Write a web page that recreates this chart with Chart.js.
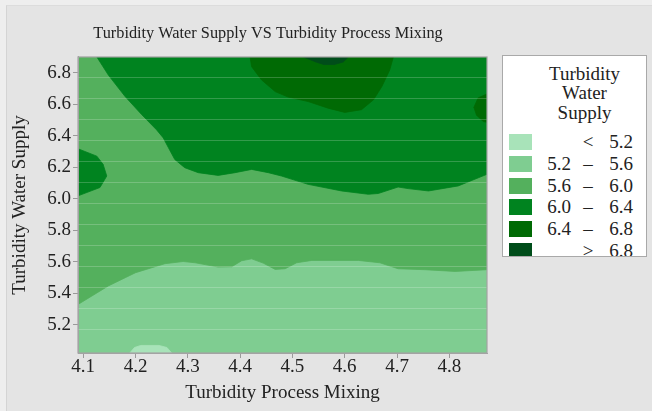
<!DOCTYPE html>
<html><head><meta charset="utf-8">
<script src="https://cdn.jsdelivr.net/npm/chart.js@4.4.1/dist/chart.umd.min.js"></script>
<style>
html,body{margin:0;padding:0;background:#eeeeee;}
#wrap{position:relative;width:652px;height:411px;overflow:hidden;}
#frame{position:absolute;left:6px;top:5px;right:0;bottom:0;background:#e4e4e4;border-left:1px solid #d4d4d4;border-top:1px solid #dcdcdc;}
canvas{position:absolute;left:0;top:0;}
#legend{position:absolute;left:502px;top:55px;width:143px;height:200px;background:#fff;border:1px solid #a9a9a9;overflow:hidden;font-family:'Liberation Serif',serif;font-size:19px;color:#222;}
#legend .ttl{position:absolute;left:20px;right:0;top:8px;text-align:center;line-height:19.3px;}
#legend .row{position:absolute;left:0;width:143px;height:22px;line-height:22px;}
#legend .sw{position:absolute;left:6px;top:3px;width:23px;height:16px;}
#legend .lo{position:absolute;right:75px;top:0;}
#legend .sy{position:absolute;left:76px;width:18px;text-align:center;top:0;}
#legend .hi{position:absolute;right:13px;top:0;}
</style></head>
<body>
<div id="wrap">
<div id="frame"></div>
<canvas id="c" width="652" height="411"></canvas>
<div id="legend"></div>
</div>
<script>
// ---- axis bounds and ticks ----
const X_MIN = 4.09, X_MAX = 4.872, Y_MIN = 5.02, Y_MAX = 6.9;
const xTicks = [4.1, 4.2, 4.3, 4.4, 4.5, 4.6, 4.7, 4.8];
const yTicks = [5.2, 5.4, 5.6, 5.8, 6.0, 6.2, 6.4, 6.6, 6.8];

// ---- contour boundaries (Turbidity Process Mixing, Turbidity Water Supply) ----
// 5.6 contour (between 5.2-5.6 and 5.6-6.0)
const c56X = [4.09, 4.148, 4.2, 4.256, 4.291, 4.314, 4.358, 4.384, 4.403, 4.422, 4.444, 4.467, 4.486, 4.508, 4.537, 4.626, 4.667, 4.702, 4.753, 4.811, 4.872];
const c56Y = [5.328, 5.446, 5.530, 5.587, 5.601, 5.593, 5.566, 5.568, 5.606, 5.618, 5.591, 5.551, 5.555, 5.593, 5.608, 5.608, 5.593, 5.555, 5.549, 5.538, 5.549];
// 6.0 contour (main)
const c60X = [4.126, 4.148, 4.180, 4.212, 4.240, 4.253, 4.263, 4.275, 4.294, 4.320, 4.358, 4.390, 4.422, 4.454, 4.479, 4.530, 4.594, 4.645, 4.664, 4.702, 4.721, 4.760, 4.817, 4.872];
const c60Y = [6.9, 6.785, 6.649, 6.533, 6.438, 6.386, 6.323, 6.249, 6.197, 6.165, 6.148, 6.165, 6.186, 6.165, 6.144, 6.091, 6.049, 6.028, 6.033, 6.074, 6.064, 6.049, 6.081, 6.155];
// 6.0 contour (left edge pocket)
const c60LX = [4.09, 4.126, 4.138, 4.145, 4.132, 4.09];
const c60LY = [6.317, 6.270, 6.218, 6.144, 6.071, 6.018];
// 6.4 contour (top blob)
const c64X = [4.419, 4.422, 4.441, 4.467, 4.492, 4.530, 4.568, 4.600, 4.632, 4.655, 4.671, 4.686, 4.693];
const c64Y = [6.9, 6.838, 6.754, 6.680, 6.645, 6.617, 6.575, 6.548, 6.565, 6.628, 6.712, 6.817, 6.9];
// 6.4 contour (right edge pocket)
const c64RX = [4.872, 4.855, 4.847, 4.852, 4.865, 4.872];
const c64RY = [6.665, 6.640, 6.580, 6.530, 6.490, 6.485];
// 6.8 contour (top)
const c68X = [4.521, 4.545, 4.56, 4.58, 4.597, 4.607];
const c68Y = [6.9, 6.868, 6.852, 6.852, 6.868, 6.9];
// 5.2 contour (bottom pocket)
const c52X = [4.189, 4.198, 4.21, 4.245, 4.26, 4.269];
const c52Y = [5.02, 5.055, 5.068, 5.068, 5.055, 5.02];

// ---- legend ----
const levelLow  = ['', '5.2', '5.6', '6.0', '6.4', ''];
const levelSym  = ['<', '–', '–', '–', '–', '>'];
const levelHigh = ['5.2', '5.6', '6.0', '6.4', '6.8', '6.8'];
const levelColors = ['#a8e3b9', '#7fcd91', '#54b05d', '#00831f', '#006a04', '#004d1a'];

function pts(xs, ys) { return xs.map((x, i) => ({x: x, y: ys[i]})); }

const bands = [
  // [points, colorIndex]
  [pts([X_MIN, X_MAX, X_MAX, X_MIN], [Y_MIN, Y_MIN, Y_MAX, Y_MAX]), 1],
  [pts(c56X.concat([X_MAX, X_MIN]), c56Y.concat([Y_MAX, Y_MAX])), 2],
  [pts(c60X.concat([X_MAX]), c60Y.concat([Y_MAX])), 3],
  [pts(c60LX, c60LY), 3],
  [pts(c64X, c64Y), 4],
  [pts(c64RX, c64RY), 4],
  [pts(c68X, c68Y), 5],
  [pts(c52X, c52Y), 0]
];

const datasets = bands.map((b, i) => ({
  data: b[0],
  showLine: true,
  fill: 'shape',
  tension: 0,
  pointRadius: 0,
  pointHoverRadius: 0,
  borderWidth: 0.8,
  borderColor: levelColors[b[1]],
  backgroundColor: levelColors[b[1]],
  order: bands.length - i
}));

const SERIF = "'Liberation Serif', 'Times New Roman', serif";
const TXT = '#222222';
const EDGE = '#a4a4a4';

const framePlugin = {
  id: 'frameBox',
  afterDraw(chart) {
    const a = chart.chartArea, ctx = chart.ctx;
    ctx.save();
    ctx.strokeStyle = EDGE;
    ctx.lineWidth = 1.2;
    ctx.strokeRect(a.left, a.top, a.right - a.left, a.bottom - a.top);
    ctx.restore();
  }
};

new Chart(document.getElementById('c'), {
  type: 'scatter',
  data: { datasets: datasets },
  plugins: [framePlugin],
  options: {
    responsive: false,
    animation: false,
    events: [],
    layout: { padding: { left: 0, right: 116, top: 0, bottom: 0 } },
    plugins: {
      legend: { display: false },
      tooltip: { enabled: false },
      title: {
        display: true,
        text: 'Turbidity Water Supply VS Turbidity Process Mixing',
        color: TXT,
        font: { family: SERIF, size: 16.3, weight: 'normal' },
        padding: { top: 24, bottom: 13.4 }
      }
    },
    scales: {
      x: {
        type: 'linear', min: X_MIN, max: X_MAX,
        afterBuildTicks: s => { s.ticks = xTicks.map(v => ({value: v})); },
        afterFit: s => { s.height = 58; },
        ticks: { color: TXT, font: { family: SERIF, size: 19 }, padding: -2, maxRotation: 0, autoSkip: false, callback: v => v.toFixed(1) },
        grid: { drawOnChartArea: false, tickLength: 5, tickColor: '#9a9a9a' },
        border: { color: EDGE, z: 1 },
        title: { display: true, text: 'Turbidity Process Mixing', color: TXT, font: { family: SERIF, size: 19 }, padding: { top: 0, bottom: 7 } }
      },
      y: {
        type: 'linear', min: Y_MIN, max: Y_MAX,
        afterBuildTicks: s => { s.ticks = yTicks.map(v => ({value: v})); },
        afterFit: s => { s.width = 78; },
        ticks: { color: TXT, font: { family: SERIF, size: 19 }, padding: 2, autoSkip: false, callback: v => v.toFixed(1) },
        grid: { drawOnChartArea: false, tickLength: 5, tickColor: '#9a9a9a' },
        border: { color: EDGE, z: 1 },
        title: { display: true, text: 'Turbidity Water Supply', color: TXT, font: { family: SERIF, size: 19 }, padding: { top: 9, bottom: 0 } }
      },
      yR: {
        type: 'linear', position: 'right', min: Y_MIN, max: Y_MAX,
        afterBuildTicks: s => {
          const t = [];
          for (let v = Y_MAX - 0.129; v > Y_MIN + 0.05; v -= 0.1335) t.push({value: v});
          s.ticks = t;
        },
        afterFit: s => { s.width = 49; },
        ticks: { display: false },
        grid: { drawOnChartArea: true, drawTicks: false, color: 'rgba(255,255,255,0.2)', lineWidth: 1, z: 1 },
        border: { display: false }
      }
    }
  }
});

// HTML legend built from the level arrays
const lg = document.getElementById('legend');
const ttl = document.createElement('div');
ttl.className = 'ttl';
ttl.innerHTML = 'Turbidity<br>Water<br>Supply';
lg.appendChild(ttl);
levelColors.forEach((c, i) => {
  const r = document.createElement('div');
  r.className = 'row';
  r.style.top = (75 + i * 21.8) + 'px';
  r.innerHTML = '<span class="sw" style="background:' + c + '"></span>' +
    '<span class="lo">' + levelLow[i] + '</span>' +
    '<span class="sy">' + levelSym[i] + '</span>' +
    '<span class="hi">' + levelHigh[i] + '</span>';
  lg.appendChild(r);
});
</script>
</body></html>
